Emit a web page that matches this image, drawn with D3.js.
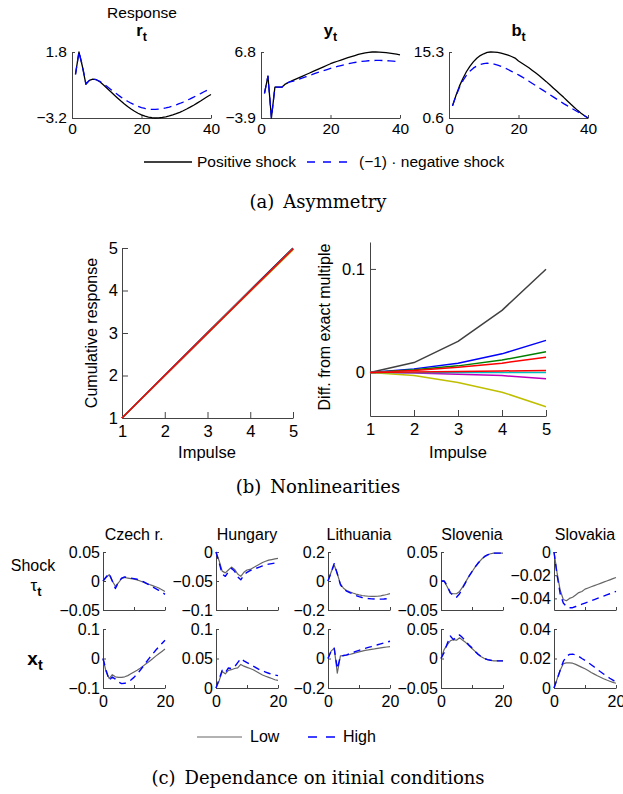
<!DOCTYPE html>
<html>
<head>
<meta charset="utf-8">
<script src="https://cdn.jsdelivr.net/npm/d3@7"></script>
<style>
	body { margin: 0; background: #fff; }
	svg text { font-family: "Liberation Sans", Arial, sans-serif; }
	.caption { font-family: "DejaVu Serif", serif !important; }
</style>
</head>
<body>
<script>

// ---- (a) asymmetry: horizon 1..40
var horizonA = d3.range(1, 41);
var rPos = [0.1, 1.8, 0.7, -0.65, -0.35, -0.25, -0.3, -0.45, -0.68, -0.92, -1.17, -1.42, -1.66, -1.9, -2.12, -2.33, -2.52, -2.69, -2.84, -2.96, -3.06, -3.13, -3.18, -3.2, -3.19, -3.16, -3.11, -3.04, -2.96, -2.87, -2.77, -2.65, -2.52, -2.38, -2.23, -2.07, -1.91, -1.74, -1.57, -1.42];
var rNeg = [0.1, 1.8, 0.75, -0.6, -0.35, -0.25, -0.3, -0.42, -0.6, -0.8, -1.0, -1.2, -1.4, -1.6, -1.77, -1.93, -2.08, -2.2, -2.32, -2.41, -2.48, -2.53, -2.55, -2.55, -2.53, -2.49, -2.44, -2.37, -2.29, -2.2, -2.1, -1.99, -1.87, -1.75, -1.62, -1.48, -1.35, -1.21, -1.08, -0.95];
var yPos = [0.1, 2.9, -3.9, 1.1, 1.1, 1.1, 1.6, 1.9, 2.15, 2.4, 2.65, 2.9, 3.15, 3.4, 3.65, 3.9, 4.15, 4.4, 4.65, 4.9, 5.1, 5.3, 5.5, 5.7, 5.88, 6.05, 6.22, 6.4, 6.53, 6.65, 6.74, 6.8, 6.8, 6.78, 6.75, 6.7, 6.63, 6.55, 6.46, 6.35];
var yNeg = [0.1, 2.9, -3.9, 1.1, 1.1, 1.1, 1.6, 1.9, 2.05, 2.2, 2.4, 2.6, 2.8, 3.0, 3.2, 3.4, 3.6, 3.78, 3.96, 4.13, 4.3, 4.45, 4.6, 4.74, 4.87, 4.99, 5.1, 5.19, 5.27, 5.33, 5.38, 5.41, 5.43, 5.43, 5.42, 5.4, 5.36, 5.32, 5.27, 5.2];
var bPos = [3.3, 5.6, 7.7, 9.4, 10.9, 12.1, 13.1, 13.9, 14.5, 14.9, 15.2, 15.3, 15.28, 15.2, 15.05, 14.85, 14.6, 14.3, 13.95, 13.3, 12.8, 12.3, 11.8, 11.2, 10.6, 10.0, 9.35, 8.7, 8.0, 7.3, 6.6, 5.9, 5.2, 4.45, 3.7, 3.0, 2.3, 1.65, 1.1, 0.6];
var bNeg = [3.3, 5.5, 7.4, 8.9, 10.1, 11.0, 11.7, 12.2, 12.5, 12.7, 12.8, 12.75, 12.6, 12.4, 12.1, 11.8, 11.4, 11.0, 10.6, 10.2, 9.75, 9.3, 8.8, 8.3, 7.8, 7.3, 6.8, 6.3, 5.8, 5.3, 4.8, 4.3, 3.8, 3.35, 2.9, 2.45, 2.0, 1.55, 1.1, 0.6];
var varTitles = ['r', 'y', 'b'];
var varRanges = [[-3.2, 1.8], [-3.9, 6.8], [0.6, 15.3]];

// ---- (b) nonlinearities
var impulses = [1, 2, 3, 4, 5];
var nlColors = ['#404040', '#0000ff', '#008000', '#ff0000', '#bf00bf', '#bfbf00', '#00bfbf', '#ff0000'];
var nlCumulative = [
	[1, 2.004, 3.01, 4.012, 5.0],
	[1, 2.0, 3.0, 4.0, 4.99],
	[1, 2.0, 3.0, 3.995, 4.985],
	[1, 2.0, 2.998, 3.99, 4.98],
	[1, 1.998, 2.995, 3.988, 4.975],
	[1, 1.995, 2.99, 3.98, 4.955],
	[1, 1.998, 2.996, 3.99, 4.978],
	[1, 1.998, 2.996, 3.99, 4.978]
];
var nlDiff = [
	[0, 0.0096, 0.030, 0.060, 0.0997],
	[0, 0.0035, 0.009, 0.018, 0.031],
	[0, 0.0026, 0.0064, 0.012, 0.020],
	[0, 0.002, 0.005, 0.009, 0.0148],
	[0, -0.0006, -0.0016, -0.003, -0.006],
	[0, -0.003, -0.0096, -0.019, -0.033],
	[0, 0, 0, 0, 0],
	[0, 0.0005, 0.001, 0.0015, 0.002]
];

// ---- (c) initial conditions: horizon 0..20
var horizonC = d3.range(0, 21);
var countries = ['Czech r.', 'Hungary', 'Lithuania', 'Slovenia', 'Slovakia'];
var tauDomains = [[-0.05, 0.05], [-0.1, 0], [-0.2, 0.2], [-0.05, 0.05], [-0.05, 0]];
var tauTicks = [[-0.05, 0, 0.05], [-0.1, -0.05, 0], [-0.2, 0, 0.2], [-0.05, 0, 0.05], [-0.04, -0.02, 0]];
var xDomains = [[-0.1, 0.1], [0, 0.1], [-0.2, 0.2], [-0.05, 0.05], [0, 0.04]];
var xTicksC = [[-0.1, 0, 0.1], [0, 0.05, 0.1], [-0.2, 0, 0.2], [-0.05, 0, 0.05], [0, 0.02, 0.04]];
var tauLow = [
	[0, 0.006, 0.011, 0.0, -0.009, -0.003, 0.004, 0.006, 0.005, 0.004, 0.003, 0.002, 0.0, -0.002, -0.004, -0.006, -0.008, -0.01, -0.012, -0.015, -0.018],
	[0, -0.015, -0.033, -0.036, -0.031, -0.026, -0.03, -0.038, -0.042, -0.035, -0.031, -0.03, -0.027, -0.024, -0.021, -0.018, -0.016, -0.014, -0.013, -0.012, -0.011],
	[0, 0.06, 0.11, 0.05, -0.02, -0.05, -0.065, -0.075, -0.083, -0.09, -0.096, -0.1, -0.103, -0.105, -0.106, -0.106, -0.105, -0.102, -0.098, -0.093, -0.087],
	[0, 0, -0.01, -0.021, -0.022, -0.022, -0.018, -0.01, -0.001, 0.008, 0.016, 0.024, 0.031, 0.037, 0.042, 0.045, 0.047, 0.048, 0.048, 0.048, 0.048],
	[0, -0.018, -0.033, -0.041, -0.042, -0.04, -0.039, -0.037, -0.035, -0.034, -0.032, -0.031, -0.03, -0.029, -0.028, -0.027, -0.026, -0.025, -0.024, -0.023, -0.022]
];
var tauHigh = [
	[0, 0.007, 0.013, 0.0, -0.013, -0.002, 0.005, 0.007, 0.006, 0.005, 0.004, 0.003, 0.001, -0.001, -0.004, -0.007, -0.01, -0.013, -0.016, -0.019, -0.023],
	[0, -0.018, -0.038, -0.042, -0.034, -0.028, -0.033, -0.043, -0.048, -0.04, -0.035, -0.032, -0.03, -0.028, -0.026, -0.024, -0.022, -0.021, -0.02, -0.019, -0.018],
	[0, 0.06, 0.12, 0.05, -0.025, -0.055, -0.07, -0.08, -0.09, -0.1, -0.108, -0.114, -0.118, -0.121, -0.123, -0.124, -0.125, -0.125, -0.124, -0.122, -0.12],
	[0, 0, -0.008, -0.02, -0.026, -0.028, -0.022, -0.012, -0.002, 0.008, 0.016, 0.024, 0.031, 0.037, 0.042, 0.045, 0.047, 0.048, 0.048, 0.048, 0.048],
	[0, -0.02, -0.036, -0.044, -0.047, -0.048, -0.048, -0.047, -0.046, -0.045, -0.044, -0.043, -0.042, -0.041, -0.04, -0.039, -0.038, -0.037, -0.036, -0.035, -0.034]
];
var xLow = [
	[0, -0.045, -0.068, -0.055, -0.062, -0.064, -0.064, -0.062, -0.058, -0.052, -0.046, -0.04, -0.033, -0.025, -0.017, -0.009, -0.001, 0.008, 0.016, 0.024, 0.032],
	[0, 0.012, 0.028, 0.024, 0.03, 0.031, 0.033, 0.034, 0.04, 0.037, 0.035, 0.033, 0.031, 0.028, 0.025, 0.022, 0.02, 0.018, 0.016, 0.014, 0.013],
	[0, 0.05, 0.07, -0.1, 0.018, 0.02, 0.022, 0.027, 0.033, 0.039, 0.045, 0.05, 0.055, 0.058, 0.062, 0.065, 0.069, 0.072, 0.075, 0.078, 0.08],
	[0, 0.015, 0.023, 0.03, 0.032, 0.031, 0.035, 0.031, 0.027, 0.022, 0.017, 0.012, 0.007, 0.003, 0.0, -0.002, -0.003, -0.004, -0.004, -0.004, -0.004],
	[0, 0.006, 0.012, 0.0165, 0.017, 0.017, 0.0168, 0.016, 0.015, 0.014, 0.013, 0.0118, 0.0105, 0.0094, 0.0083, 0.0073, 0.0063, 0.0054, 0.0046, 0.0038, 0.0032]
];
var xHigh = [
	[0, -0.04, -0.074, -0.063, -0.07, -0.08, -0.085, -0.084, -0.08, -0.073, -0.064, -0.053, -0.04, -0.026, -0.012, 0.002, 0.015, 0.028, 0.04, 0.051, 0.062],
	[0, 0.015, 0.03, 0.026, 0.034, 0.033, 0.036, 0.043, 0.05, 0.046, 0.043, 0.04, 0.037, 0.034, 0.031, 0.029, 0.027, 0.025, 0.023, 0.022, 0.021],
	[0, 0.05, 0.07, -0.07, 0.015, 0.02, 0.025, 0.032, 0.04, 0.048, 0.055, 0.062, 0.069, 0.075, 0.081, 0.087, 0.093, 0.099, 0.105, 0.111, 0.117],
	[0, 0.01, 0.025, 0.038, 0.032, 0.037, 0.04, 0.035, 0.029, 0.023, 0.018, 0.012, 0.007, 0.003, 0.0, -0.002, -0.003, -0.004, -0.004, -0.004, -0.004],
	[0, 0.006, 0.012, 0.018, 0.0215, 0.0228, 0.023, 0.0225, 0.0215, 0.02, 0.0188, 0.0173, 0.0158, 0.0142, 0.0126, 0.011, 0.0095, 0.008, 0.0066, 0.0053, 0.004]
];

var svg = d3.select('body').append('svg')
		.attr('width', 623)
		.attr('height', 794);

var axisColor = '#444';

function fmt(v) {
	return (v < 0 ? '\u2212' : '') + String(Math.abs(v));
}

// left + bottom axes with inward ticks (matlab look)
function drawAxes(g, x, y, o) {
	var xa = d3.axisBottom(x)
		.tickValues(o.xTicks)
		.tickSizeInner(-o.tick)
		.tickSizeOuter(0)
		.tickPadding(o.xPad)
		.tickFormat(function(d) { return o.xLabels.indexOf(d) >= 0 ? fmt(d) : ''; });
	var ya = d3.axisLeft(y)
		.tickValues(o.yTicks)
		.tickSizeInner(-o.tick)
		.tickSizeOuter(0)
		.tickPadding(o.yPad)
		.tickFormat(fmt);
	var gx = g.append('g')
		.attr('transform', 'translate(0,' + y.range()[0] + ')')
		.call(xa);
	var gy = g.append('g')
		.attr('transform', 'translate(' + x.range()[0] + ',0)')
		.call(ya);
	[gx, gy].forEach(function(a) {
		a.attr('font-family', null).attr('font-size', null);
		a.select('.domain').attr('stroke', axisColor);
		a.selectAll('.tick line').attr('stroke', axisColor);
		a.selectAll('.tick text').attr('fill', '#000').style('font-size', o.font + 'px');
	});
}

function drawLine(g, x, y, xs, ys, color, width, dash) {
	var line = d3.line()
		.x(function(d) { return x(d[0]); })
		.y(function(d) { return y(d[1]); });
	g.append('path')
		.datum(d3.zip(xs, ys))
		.attr('d', line)
		.attr('fill', 'none')
		.attr('stroke', color)
		.attr('stroke-width', width)
		.attr('stroke-linejoin', 'round')
		.attr('stroke-dasharray', dash || null);
}

// symbol with bold subscript t
function subLabel(g, x, y, sym, size, bold) {
	var t = g.append('text')
		.attr('x', x)
		.attr('y', y)
		.attr('text-anchor', 'middle');
	t.append('tspan')
		.attr('font-weight', bold ? 'bold' : 'normal')
		.style('font-size', size + 'px')
		.text(sym);
	t.append('tspan')
		.attr('font-weight', 'bold')
		.attr('dy', 5)
		.style('font-size', (size * 0.75) + 'px')
		.text('t');
}

function caption(text, y) {
	svg.append('text')
		.attr('class', 'caption')
		.attr('x', 318)
		.attr('y', y)
		.attr('text-anchor', 'middle')
		.style('font-size', '18px')
		.text(text);
}

// ================= (a) =================
var gA = svg.append('g');
var aLeft = [72, 261, 449],
	aWidth = 139,
	aTop = 52,
	aBottom = 118;
var aPos = [rPos, yPos, bPos],
	aNeg = [rNeg, yNeg, bNeg];

aLeft.forEach(function(left, i) {
	var x = d3.scaleLinear().domain([0, 40]).range([left, left + aWidth]);
	var y = d3.scaleLinear().domain(varRanges[i]).range([aBottom, aTop]);
	drawAxes(gA, x, y, {
		xTicks: [0, 20, 40], xLabels: [0, 20, 40],
		yTicks: varRanges[i], tick: 3, xPad: 5, yPad: 5, font: 15.5
	});
	drawLine(gA, x, y, horizonA, aPos[i], '#000', 1.3);
	drawLine(gA, x, y, horizonA, aNeg[i], '#0000ff', 1.3, '8,5');
	subLabel(gA, left + aWidth / 2, 36, varTitles[i], 16.5, true);
});
gA.append('text')
	.attr('x', 142)
	.attr('y', 18)
	.attr('text-anchor', 'middle')
	.style('font-size', '15.5px')
	.text('Response');

// legend (a)
gA.append('line').attr('x1', 144).attr('x2', 192).attr('y1', 162).attr('y2', 162)
	.attr('stroke', '#000').attr('stroke-width', 1.3);
gA.append('text').attr('x', 197).attr('y', 167).style('font-size', '15.5px').text('Positive shock');
gA.append('line').attr('x1', 307).attr('x2', 353).attr('y1', 162).attr('y2', 162)
	.attr('stroke', '#0000ff').attr('stroke-width', 1.3).attr('stroke-dasharray', '8,8');
gA.append('text').attr('x', 359).attr('y', 167).style('font-size', '15.5px').text('(\u22121) \u00b7 negative shock');

caption('(a)\u2002Asymmetry', 208);

// ================= (b) =================
var gB = svg.append('g');
var xB1 = d3.scaleLinear().domain([1, 5]).range([122, 293]);
var yB1 = d3.scaleLinear().domain([1, 5]).range([418, 248]);
drawAxes(gB, xB1, yB1, {
	xTicks: impulses, xLabels: impulses, yTicks: impulses,
	tick: 6, xPad: 7, yPad: 4, font: 16.5
});
nlCumulative.forEach(function(vals, i) {
	drawLine(gB, xB1, yB1, impulses, vals, nlColors[i], 1.5);
});

var xB2 = d3.scaleLinear().domain([1, 5]).range([370, 546]);
var yB2 = d3.scaleLinear().domain([-0.042, 0.126]).range([416, 242]);
drawAxes(gB, xB2, yB2, {
	xTicks: impulses, xLabels: impulses, yTicks: [0, 0.1],
	tick: 6, xPad: 7, yPad: 5, font: 16.5
});
nlDiff.forEach(function(vals, i) {
	drawLine(gB, xB2, yB2, impulses, vals, nlColors[i], 1.5);
});

[207, 458].forEach(function(cx) {
	gB.append('text').attr('x', cx).attr('y', 458).attr('text-anchor', 'middle')
		.style('font-size', '16.5px').text('Impulse');
});
gB.append('text')
	.attr('transform', 'translate(97,333) rotate(-90)')
	.attr('text-anchor', 'middle')
	.style('font-size', '16px')
	.text('Cumulative response');
gB.append('text')
	.attr('transform', 'translate(330,327) rotate(-90)')
	.attr('text-anchor', 'middle')
	.style('font-size', '16px')
	.text('Diff. from exact multiple');

caption('(b)\u2002Nonlinearities', 493);

// ================= (c) =================
var gC = svg.append('g');
var cLeft = [103, 216, 328, 441, 554],
	cWidth = 62,
	rowTop = [552, 629],
	rowBottom = [610, 688];

countries.forEach(function(name, i) {
	var x = d3.scaleLinear().domain([0, 20]).range([cLeft[i], cLeft[i] + cWidth]);
	var yTau = d3.scaleLinear().domain(tauDomains[i]).range([rowBottom[0], rowTop[0]]);
	var yX = d3.scaleLinear().domain(xDomains[i]).range([rowBottom[1], rowTop[1]]);

	drawAxes(gC, x, yTau, {
		xTicks: [0, 10, 20], xLabels: [], yTicks: tauTicks[i],
		tick: 3, xPad: 8, yPad: 3, font: 16
	});
	drawLine(gC, x, yTau, horizonC, tauLow[i], '#666', 1.2);
	drawLine(gC, x, yTau, horizonC, tauHigh[i], '#0000ff', 1.4, '7,5');

	drawAxes(gC, x, yX, {
		xTicks: [0, 10, 20], xLabels: [0, 20], yTicks: xTicksC[i],
		tick: 3, xPad: 8, yPad: 3, font: 16
	});
	drawLine(gC, x, yX, horizonC, xLow[i], '#666', 1.2);
	drawLine(gC, x, yX, horizonC, xHigh[i], '#0000ff', 1.4, '7,5');

	gC.append('text')
		.attr('x', cLeft[i] + cWidth / 2)
		.attr('y', 540)
		.attr('text-anchor', 'middle')
		.style('font-size', '16px')
		.text(name);
});

gC.append('text').attr('x', 33).attr('y', 571).attr('text-anchor', 'middle')
	.style('font-size', '16px').text('Shock');
subLabel(gC, 36, 591, '\u03c4', 17, false);
subLabel(gC, 35, 665, 'x', 19, true);

// legend (c)
gC.append('line').attr('x1', 197).attr('x2', 242).attr('y1', 737).attr('y2', 737)
	.attr('stroke', '#666').attr('stroke-width', 1.2);
gC.append('text').attr('x', 250).attr('y', 742).style('font-size', '16px').text('Low');
gC.append('line').attr('x1', 308).attr('x2', 338).attr('y1', 737).attr('y2', 737)
	.attr('stroke', '#0000ff').attr('stroke-width', 1.4).attr('stroke-dasharray', '9,9');
gC.append('text').attr('x', 343).attr('y', 742).style('font-size', '16px').text('High');

caption('(c)\u2002Dependance on itinial conditions', 784);

</script>
</body>
</html>
